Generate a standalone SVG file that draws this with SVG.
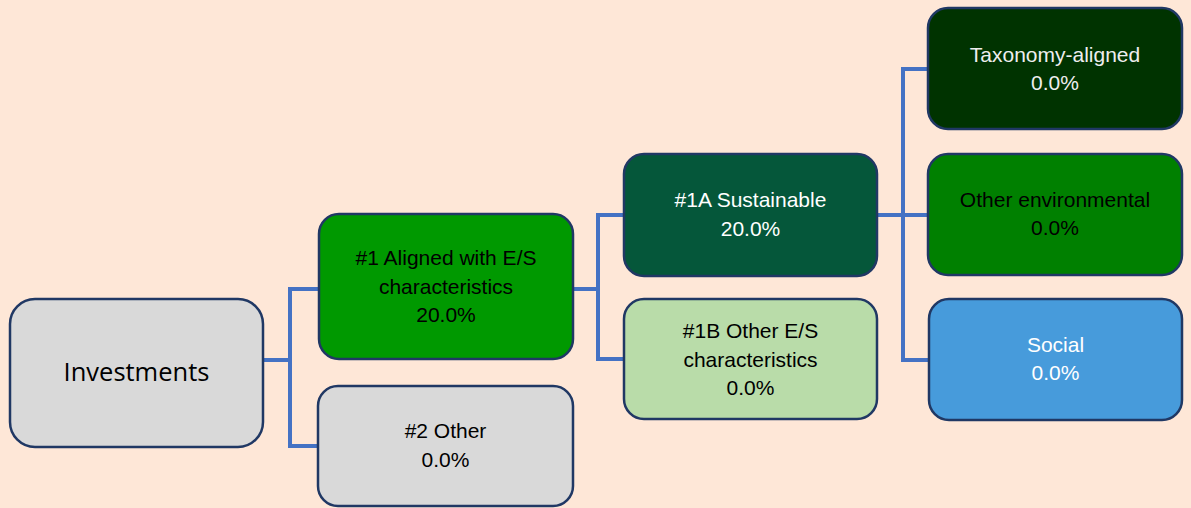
<svg xmlns="http://www.w3.org/2000/svg" width="1191" height="508" viewBox="0 0 1191 508">
<style>
.box{stroke:#203864;stroke-width:2.5}
.t{font-family:"Liberation Sans",Arial,sans-serif;font-size:21px;text-anchor:middle;fill:#000}
.w{fill:#fff}
.g{fill:#EEEEEE}
.inv{font-family:"Open Sans","DejaVu Sans",sans-serif;font-size:25.5px;text-anchor:middle;fill:#000}
.conn{fill:none;stroke:#4472C4;stroke-width:4}
</style>
<rect width="1191" height="508" fill="#FEE7D7"/>
<g id="connectors">
<path class="conn" d="M263 360 H290 M319 289 H290 V446 H318"/>
<path class="conn" d="M573 289 H598 M624 215 H598 V359 H624"/>
<path class="conn" d="M877 215 H928 M928 69 H903 V360 H928"/>
</g>
<g id="investments">
<rect class="box" x="10" y="299" width="253" height="148" rx="25" fill="#D9D9D9"/>
<text class="inv" x="136.5" y="381">Investments</text>
</g>
<g id="aligned">
<rect class="box" x="319" y="214" width="254" height="145" rx="20" fill="#009900"/>
<text class="t" x="446" y="265">#1 Aligned with E/S</text>
<text class="t" x="446" y="293.5">characteristics</text>
<text class="t" x="446" y="322">20.0%</text>
</g>
<g id="other2">
<rect class="box" x="318" y="386" width="255" height="120" rx="20" fill="#D9D9D9"/>
<text class="t" x="445.5" y="438">#2 Other</text>
<text class="t" x="445.5" y="467">0.0%</text>
</g>
<g id="sustainable">
<rect class="box" x="624" y="154" width="253" height="122" rx="20" fill="#05573A"/>
<text class="t w" x="750.5" y="207">#1A Sustainable</text>
<text class="t w" x="750.5" y="236">20.0%</text>
</g>
<g id="otheres">
<rect class="box" x="624" y="299" width="253" height="120" rx="20" fill="#B9DCA9"/>
<text class="t" x="750.5" y="338">#1B Other E/S</text>
<text class="t" x="750.5" y="366.5">characteristics</text>
<text class="t" x="750.5" y="395">0.0%</text>
</g>
<g id="taxonomy">
<rect class="box" x="928" y="8" width="254" height="121" rx="20" fill="#003300"/>
<text class="t g" x="1055" y="62">Taxonomy-aligned</text>
<text class="t g" x="1055" y="90">0.0%</text>
</g>
<g id="otherenv">
<rect class="box" x="928" y="154" width="254" height="121" rx="20" fill="#008000"/>
<text class="t" x="1055" y="207">Other environmental</text>
<text class="t" x="1055" y="235">0.0%</text>
</g>
<g id="social">
<rect class="box" x="929" y="299" width="253" height="121" rx="20" fill="#479BDB"/>
<text class="t w" x="1055.5" y="352">Social</text>
<text class="t w" x="1055.5" y="380">0.0%</text>
</g>
</svg>
